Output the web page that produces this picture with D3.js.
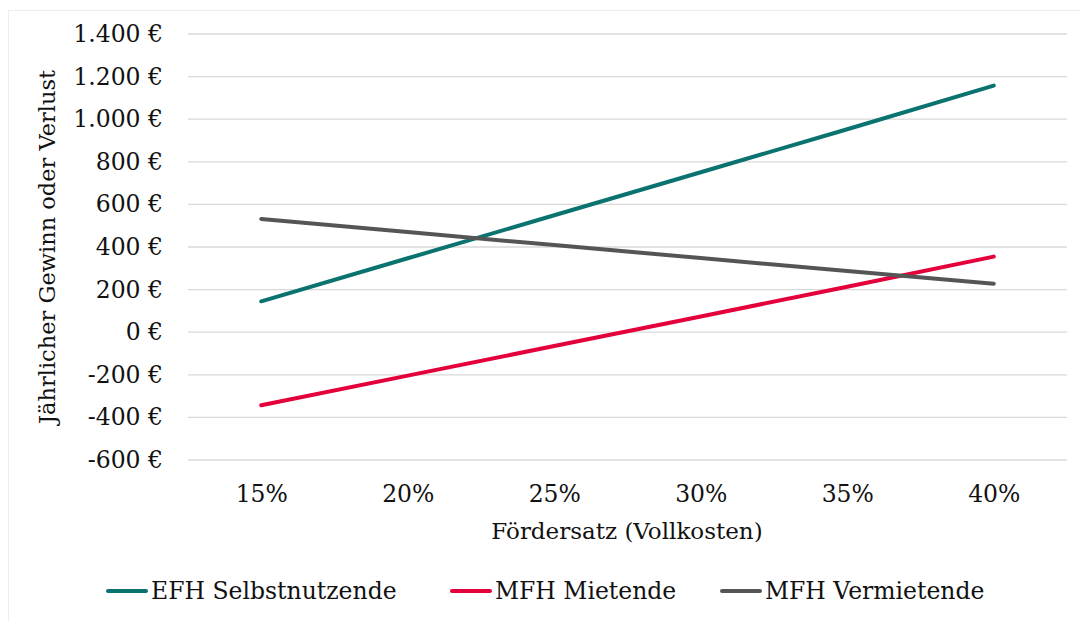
<!DOCTYPE html>
<html>
<head>
<meta charset="utf-8">
<script src="https://cdn.jsdelivr.net/npm/d3@7"></script>
<style>
  body { margin: 0; background: #fff; }
  svg { font-family: "DejaVu Serif", "Liberation Serif", serif; }
  .grid line { stroke: #d9d9d9; stroke-width: 1.3; }
  .tick text { fill: #111; }
</style>
</head>
<body>
<svg width="1080" height="621"></svg>
<script>
const svg = d3.select("svg");

const categories = ["15%", "20%", "25%", "30%", "35%", "40%"];

const efhSelbst = [145, 347, 549, 751, 953, 1158];
const mfhMiete = [-343, -204, -65, 74, 213, 355];
const mfhVermiete = [532, 470, 409, 348, 287, 228];

const yTicks = [-600, -400, -200, 0, 200, 400, 600, 800, 1000, 1200, 1400];

const series = [
    { name: "EFH Selbstnutzende", values: efhSelbst, color: "#0b736f" },
    { name: "MFH Mietende", values: mfhMiete, color: "#e4003a" },
    { name: "MFH Vermietende", values: mfhVermiete, color: "#555555" },
];

const plotLeft = 188, plotRight = 1067, plotTop = 34, plotBottom = 460;
const font = '"DejaVu Serif", "Liberation Serif", serif';

const x = d3.scalePoint()
            .domain(categories)
            .range([plotLeft, plotRight])
            .padding(0.5);

const y = d3.scaleLinear()
            .domain([-600, 1400])
            .range([plotBottom, plotTop]);

// light frame around the chart area
svg.append('rect')
    .attr('x', 8.5).attr('y', 10.5)
    .attr('width', 1080).attr('height', 640)
    .attr('fill', 'none')
    .attr('stroke', '#ececec');

// gridlines
svg.append('g')
    .attr('class', 'grid')
    .selectAll('line')
    .data(yTicks)
    .enter().append('line')
    .attr('x1', plotLeft).attr('x2', plotRight)
    .attr('y1', d => y(d)).attr('y2', d => y(d));

const fmt = v => d3.format(",")(v).replace(/,/g, ".").replace("−", "-") + " €";

// y axis
const yAxis = svg.append('g')
    .attr('transform', `translate(${plotLeft},0)`)
    .call(d3.axisLeft(y).tickValues(yTicks).tickFormat(fmt).tickSize(0).tickPadding(25))
    .attr('font-family', font)
    .attr('font-size', 23.5);
yAxis.select('.domain').remove();

// x axis
const xAxis = svg.append('g')
    .attr('transform', `translate(0,${plotBottom})`)
    .call(d3.axisBottom(x).tickSize(0).tickPadding(25))
    .attr('font-family', font)
    .attr('font-size', 23.5);
xAxis.select('.domain').remove();

// axis titles
svg.append('text')
    .attr('x', 627).attr('y', 539)
    .attr('text-anchor', 'middle')
    .attr('font-size', 23)
    .attr('fill', '#111')
    .text("Fördersatz (Vollkosten)");

svg.append('text')
    .attr('transform', 'translate(55,247) rotate(-90)')
    .attr('text-anchor', 'middle')
    .attr('font-size', 22.5)
    .attr('fill', '#111')
    .text("Jährlicher Gewinn oder Verlust");

// lines
const line = d3.line()
    .x((d, i) => x(categories[i]))
    .y(d => y(d));

svg.append('g')
    .selectAll('path')
    .data(series)
    .enter().append('path')
    .attr('d', d => line(d.values))
    .attr('fill', 'none')
    .attr('stroke', d => d.color)
    .attr('stroke-width', 4)
    .attr('stroke-linecap', 'round');

// legend
const legendX = [108, 452, 722];
const legend = svg.append('g')
    .selectAll('g')
    .data(series)
    .enter().append('g')
    .attr('transform', (d, i) => `translate(${legendX[i]},591)`);

legend.append('line')
    .attr('x1', 0).attr('x2', 38)
    .attr('stroke', d => d.color)
    .attr('stroke-width', 4)
    .attr('stroke-linecap', 'round');

legend.append('text')
    .attr('x', 43).attr('y', 8)
    .attr('font-size', 23.5)
    .attr('fill', '#111')
    .text(d => d.name);
</script>
</body>
</html>
